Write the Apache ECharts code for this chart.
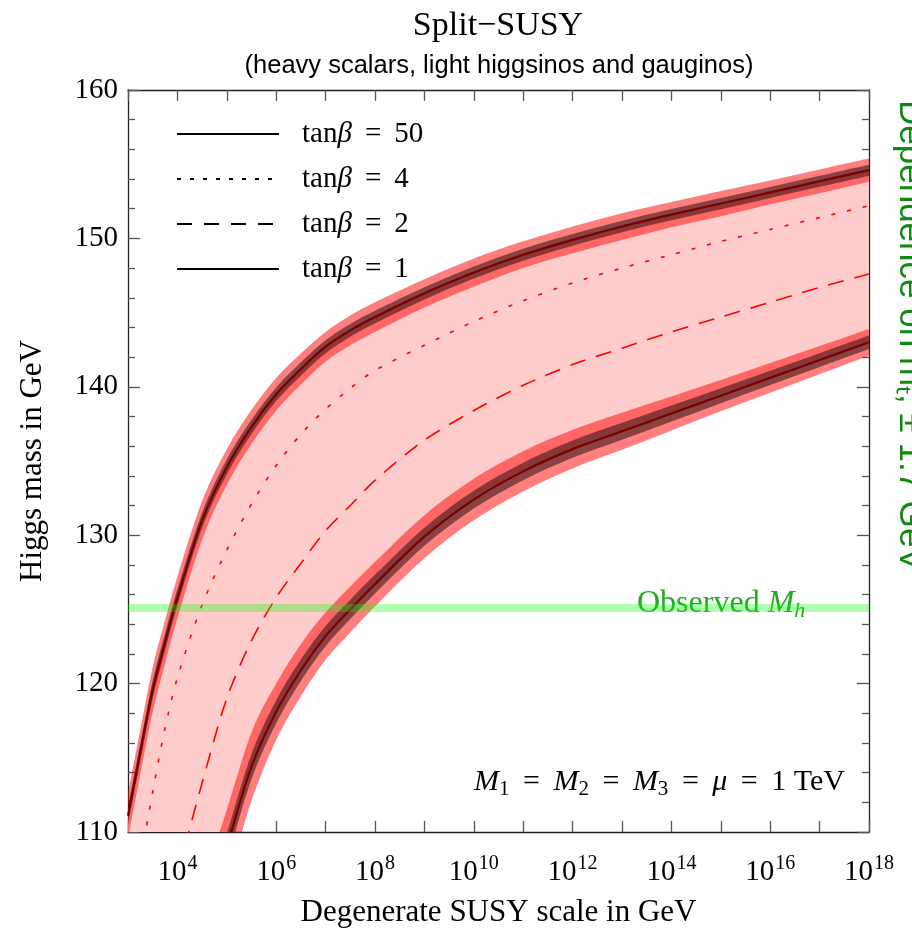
<!DOCTYPE html>
<html>
<head>
<meta charset="utf-8">
<script src="https://cdn.jsdelivr.net/npm/echarts@6/dist/echarts.min.js"></script>
<style>
  html, body { margin: 0; padding: 0; background: #fff; }
  #chart { width: 912px; height: 935px; }
</style>
</head>
<body>
<div id="chart"></div>
<script>
// x = log10 of the SUSY scale in GeV
const xExp = [3, 3.25, 3.5, 3.75, 4, 4.5, 5, 5.5, 6, 6.5, 7, 7.5, 8, 9, 10, 11, 12, 13, 14, 15, 16, 17, 18];

// Higgs mass (GeV) for each tan(beta)
const tanb50 = [111.1, 115.4, 119.6, 122.8, 125.8, 131.0, 134.6, 137.3, 139.5, 141.2, 142.7, 143.8, 144.7, 146.3, 147.7, 148.9, 149.9, 150.8, 151.6, 152.35, 153.1, 153.85, 154.6];
const tanb4  = [103.0, 108.0, 112.7, 117.0, 120.4, 125.3, 129.0, 132.1, 134.7, 136.8, 138.5, 139.9, 141.1, 142.8, 144.4, 145.8, 147.0, 148.0, 148.9, 149.8, 150.6, 151.4, 152.2];
const tanb2  = [95.0, 98.5, 101.5, 104.5, 107.2, 113.3, 119.0, 122.9, 125.8, 128.1, 130.3, 132.0, 133.7, 136.4, 138.4, 140.1, 141.5, 142.6, 143.7, 144.7, 145.7, 146.7, 147.6];
const tanb1  = [87.0, 90.0, 93.0, 95.8, 98.5, 103.8, 109.0, 114.4, 118.1, 120.9, 123.2, 125.0, 126.7, 129.9, 132.4, 134.3, 135.8, 137.0, 138.2, 139.4, 140.6, 141.8, 143.0];

// half-widths of the uncertainty bands (GeV)
const outer50 = [1.5, 1.5, 1.5, 1.45, 1.4, 1.3, 1.2, 1.15, 1.1, 1.05, 1.0, 1.0, 1.0, 0.95, 0.95, 0.9, 0.9, 0.9, 0.85, 0.85, 0.8, 0.8, 0.78];
const inner50 = [0.6, 0.6, 0.6, 0.58, 0.56, 0.52, 0.5, 0.48, 0.46, 0.45, 0.44, 0.43, 0.42, 0.41, 0.4, 0.4, 0.39, 0.39, 0.38, 0.38, 0.37, 0.37, 0.37];
const outer1 = [2.6, 2.6, 2.6, 2.6, 2.6, 2.6, 2.5, 2.3, 1.9, 1.75, 1.6, 1.55, 1.5, 1.45, 1.4, 1.35, 1.3, 1.25, 1.15, 1.05, 1.0, 0.95, 0.9];
const inner1 = [1.0, 1.0, 1.0, 1.0, 1.0, 0.95, 0.9, 0.85, 0.78, 0.72, 0.68, 0.65, 0.63, 0.61, 0.6, 0.59, 0.58, 0.57, 0.54, 0.51, 0.48, 0.46, 0.45];

const observedMh = 125.1;
const xLabelExps = [4, 6, 8, 10, 12, 14, 16, 18];
const legendNames = ['50', '4', '2', '1'];

const serif = 'Liberation Serif, Times New Roman, serif';
const smooth = 0.3;
const sp = ' \u2009'; // wide math-style spacing around "="

function pts(vals) {
    return xExp.map((x, i) => [x, vals[i]]);
}

// Catmull-Rom through pixel points -> bezier path commands
function curvePath(p, start) {
    let d = (start ? 'M' : 'L') + p[0][0] + ' ' + p[0][1];
    for (let i = 0; i < p.length - 1; i++) {
        const p0 = p[Math.max(i - 1, 0)], p1 = p[i], p2 = p[i + 1], p3 = p[Math.min(i + 2, p.length - 1)];
        const c1 = [p1[0] + (p2[0] - p0[0]) / 6, p1[1] + (p2[1] - p0[1]) / 6];
        const c2 = [p2[0] - (p3[0] - p1[0]) / 6, p2[1] - (p3[1] - p1[1]) / 6];
        d += ' C' + c1[0] + ' ' + c1[1] + ' ' + c2[0] + ' ' + c2[1] + ' ' + p2[0] + ' ' + p2[1];
    }
    return d;
}

// filled region between two curves, placed through the axes
function band(lo, hi, color) {
    return {
        type: 'custom', silent: true, clip: true,
        data: [[10, 130]], encode: { x: 0, y: 1 },
        renderItem: (params, api) => {
            const top = xExp.map((x, i) => api.coord([x, hi[i]]));
            const bot = xExp.map((x, i) => api.coord([x, lo[i]])).reverse();
            return {
                type: 'path',
                shape: { pathData: curvePath(top, true) + ' ' + curvePath(bot, false) + ' Z' },
                style: { fill: color, stroke: null }
            };
        }
    };
}

const lo50o = tanb50.map((v, i) => v - outer50[i]), hi50o = tanb50.map((v, i) => v + outer50[i]);
const lo50i = tanb50.map((v, i) => v - inner50[i]), hi50i = tanb50.map((v, i) => v + inner50[i]);
const lo1o = tanb1.map((v, i) => v - outer1[i]), hi1o = tanb1.map((v, i) => v + outer1[i]);
const lo1i = tanb1.map((v, i) => v - inner1[i]), hi1i = tanb1.map((v, i) => v + inner1[i]);

const outerRed = 'rgba(255,0,0,0.5)';
const innerDark = 'rgba(40,15,15,0.55)';

const series = [
    band(tanb1, tanb50, '#ffcccc'),
    band(lo50o, hi50o, outerRed),
    band(lo1o, hi1o, outerRed),
    band(lo50i, hi50i, innerDark),
    band(lo1i, hi1i, innerDark),
    { type: 'line', symbol: 'none', smooth: smooth, silent: true,
      lineStyle: { color: '#780000', width: 2.2 }, data: pts(tanb50) },
    { type: 'line', symbol: 'none', smooth: smooth, silent: true,
      lineStyle: { color: '#780000', width: 2.2 }, data: pts(tanb1) },
    { type: 'line', symbol: 'none', smooth: smooth, silent: true,
      lineStyle: { color: '#ff0000', width: 1.6, type: [4, 12] }, data: pts(tanb4) },
    { type: 'line', symbol: 'none', smooth: smooth, silent: true,
      lineStyle: { color: '#ff0000', width: 1.6, type: [16, 11] }, data: pts(tanb2) },
    { type: 'line', symbol: 'none', silent: true,
      lineStyle: { color: 'rgba(0,255,0,0.3)', width: 8 },
      data: [[xExp[0], observedMh], [xExp[xExp.length - 1], observedMh]] }
].concat(
    // legend entries (drawn in black like the original key)
    legendNames.map((n, i) => ({
        name: n, type: 'line', data: [], symbol: 'none', color: '#000',
        lineStyle: { color: '#000', width: 1.5, type: ['solid', [4, 9], [15, 12], 'solid'][i] }
    }))
);

const axisLineStyle = { color: '#222', width: 1.3 };
const tickStyle = { color: '#555', width: 1.3 };

const option = {
    animation: false,
    title: [
        { text: 'Split\u2212SUSY', left: 493, top: 4, textAlign: 'center',
          textStyle: { fontFamily: serif, fontSize: 34, fontWeight: 'normal', color: '#000' } },
        { text: '(heavy scalars, light higgsinos and gauginos)', left: 494, top: 48, textAlign: 'center',
          textStyle: { fontFamily: 'Liberation Sans, Arial, sans-serif', fontSize: 25.5, fontWeight: 'normal', color: '#000' } }
    ],
    grid: { left: 128, right: 43, top: 90, bottom: 103, outerBoundsMode: 'none', containLabel: false },
    legend: {
        orient: 'vertical', left: 176, top: 119, padding: 0,
        itemGap: 15, itemWidth: 102, itemHeight: 14,
        selectedMode: false, data: legendNames,
        itemStyle: { opacity: 0 },
        formatter: n => 'tan{b|\u03b2}' + sp + '=' + sp + n,
        textStyle: {
            fontFamily: serif, fontSize: 29, color: '#000', lineHeight: 30, padding: [0, 0, 0, 18],
            rich: { b: { fontFamily: serif, fontSize: 29, fontStyle: 'italic', color: '#000' } }
        }
    },
    xAxis: [
        {
            type: 'value', min: 3, max: 18, interval: 1, position: 'bottom',
            axisLine: { show: true, lineStyle: axisLineStyle },
            axisTick: { show: true, inside: true, length: 11, lineStyle: tickStyle },
            splitLine: { show: false },
            axisLabel: {
                margin: 22, showMinLabel: true, showMaxLabel: true,
                formatter: v => xLabelExps.includes(v) ? '{a|10}{s|' + v + '}' : '',
                rich: {
                    a: { fontFamily: serif, fontSize: 29, color: '#000', lineHeight: 36, verticalAlign: 'middle' },
                    s: { fontFamily: serif, fontSize: 20, color: '#000', verticalAlign: 'top', padding: [0, 0, 0, 1] }
                }
            },
            name: 'Degenerate SUSY scale in GeV', nameLocation: 'middle', nameGap: 65,
            nameTextStyle: { fontFamily: serif, fontSize: 31, color: '#000' }
        },
        {
            type: 'value', min: 3, max: 18, interval: 1, position: 'top',
            axisLine: { show: true, lineStyle: axisLineStyle },
            axisTick: { show: true, inside: true, length: 11, lineStyle: tickStyle },
            splitLine: { show: false }, axisLabel: { show: false }
        }
    ],
    yAxis: [
        {
            type: 'value', min: 110, max: 160, interval: 10, position: 'left',
            axisLine: { show: true, lineStyle: axisLineStyle },
            axisTick: { show: true, inside: true, length: 12, lineStyle: tickStyle },
            minorTick: { show: true, splitNumber: 5, length: 7, lineStyle: tickStyle },
            splitLine: { show: false },
            axisLabel: { fontFamily: serif, fontSize: 29, color: '#000', margin: 10 },
            name: 'Higgs mass in GeV', nameLocation: 'middle', nameGap: 80,
            nameTextStyle: { fontFamily: serif, fontSize: 31, color: '#000' }
        },
        {
            type: 'value', min: 110, max: 160, interval: 10, position: 'right',
            axisLine: { show: true, lineStyle: axisLineStyle },
            axisTick: { show: true, inside: true, length: 12, lineStyle: tickStyle },
            minorTick: { show: true, splitNumber: 5, length: 7, lineStyle: tickStyle },
            splitLine: { show: false }, axisLabel: { show: false }
        }
    ],
    graphic: [
        {
            type: 'text', left: 637, top: 588, silent: true,
            style: {
                text: '{g|Observed }{m|M}{h|h}',
                rich: {
                    g: { fontFamily: serif, fontSize: 32, fill: '#22aa22', color: '#22aa22', lineHeight: 36 },
                    m: { fontFamily: serif, fontSize: 32, fontStyle: 'italic', fill: '#22aa22', color: '#22aa22', lineHeight: 36 },
                    h: { fontFamily: serif, fontSize: 22, fontStyle: 'italic', fill: '#22aa22', color: '#22aa22', verticalAlign: 'bottom' }
                }
            }
        },
        {
            type: 'text', right: 67, top: 767, silent: true,
            style: {
                text: '{m|M}{s|1}{t|' + sp + '=' + sp + '}{m|M}{s|2}{t|' + sp + '=' + sp + '}{m|M}{s|3}{t|' + sp + '=' + sp + '}{m|\u03bc}{t|' + sp + '=' + sp + '1 TeV}',
                rich: {
                    t: { fontFamily: serif, fontSize: 30, fill: '#000', color: '#000', lineHeight: 36 },
                    m: { fontFamily: serif, fontSize: 30, fontStyle: 'italic', fill: '#000', color: '#000', lineHeight: 36 },
                    s: { fontFamily: serif, fontSize: 21, fill: '#000', color: '#000', verticalAlign: 'bottom' }
                }
            }
        },
        {
            type: 'text', x: 892, y: 100, rotation: -Math.PI / 2, silent: true,
            style: {
                text: 'Dependence on m\u209c, \u00b1 1.7 GeV',
                font: '35px Liberation Sans, Arial, sans-serif',
                fill: '#118811',
                align: 'left', textAlign: 'left',
                verticalAlign: 'bottom', textVerticalAlign: 'bottom'
            }
        }
    ],
    series: series
};

const chart = echarts.init(document.getElementById('chart'));
chart.setOption(option);
</script>
</body>
</html>
